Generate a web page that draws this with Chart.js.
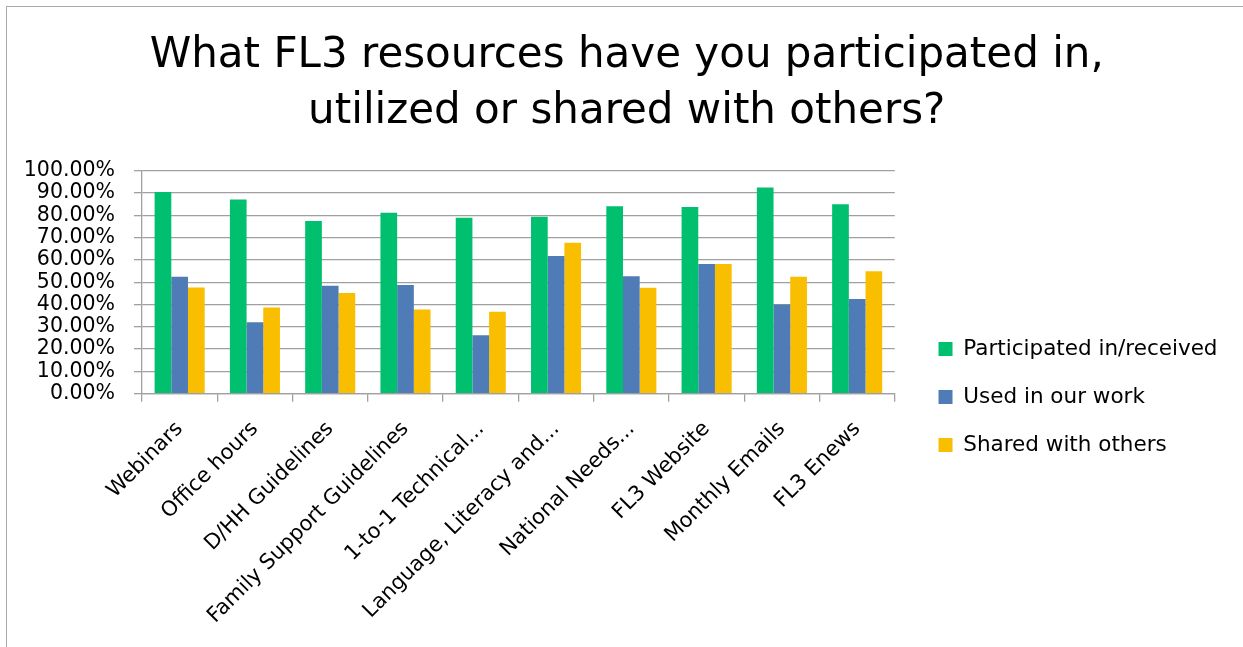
<!DOCTYPE html>
<html><head><meta charset="utf-8">
<script src="https://cdn.jsdelivr.net/npm/chart.js@4.4.0/dist/chart.umd.min.js"></script>
<style>
html,body{margin:0;padding:0;background:#fff;}
#wrap{position:relative;width:1243px;height:647px;overflow:hidden;}
#frame{position:absolute;left:6px;top:6px;width:1300px;height:700px;border-left:1px solid #a9a9a9;border-top:1px solid #a9a9a9;}
canvas{position:absolute;left:0;top:0;}
</style></head><body>
<div id="wrap"><div id="frame"></div><canvas id="c" width="1243" height="647"></canvas></div>
<script>
const titleLines = ['What FL3 resources have you participated in,', 'utilized or shared with others?'];
const categories = ['Webinars', 'Office hours', 'D/HH Guidelines', 'Family Support Guidelines', '1-to-1 Technical...', 'Language, Literacy and...', 'National Needs...', 'FL3 Website', 'Monthly Emails', 'FL3 Enews'];
const seriesNames = ['Participated in/received', 'Used in our work', 'Shared with others'];
const participated = [90.4, 87.1, 77.4, 81.1, 78.9, 79.3, 84.1, 83.7, 92.5, 85.0];
const usedInWork = [52.4, 32.0, 48.4, 48.7, 26.2, 61.7, 52.7, 58.1, 40.0, 42.5];
const sharedWithOthers = [47.6, 38.6, 45.1, 37.7, 36.7, 67.7, 47.5, 58.1, 52.4, 54.9];
const yTickLabels = ['0.00%', '10.00%', '20.00%', '30.00%', '40.00%', '50.00%', '60.00%', '70.00%', '80.00%', '90.00%', '100.00%'];
const FONT = 'DejaVu Sans';
const GRID = '#a0a0a0';

new Chart(document.getElementById('c'), {
  type: 'bar',
  data: {
    labels: categories,
    datasets: [
      { label: seriesNames[0], data: participated, backgroundColor: '#00bf6f' },
      { label: seriesNames[1], data: usedInWork, backgroundColor: '#4f7cb6' },
      { label: seriesNames[2], data: sharedWithOthers, backgroundColor: '#f9be00' }
    ]
  },
  options: {
    responsive: false,
    animation: false,
    devicePixelRatio: 1,
    layout: { padding: { left: 26, right: 15.5, top: 0, bottom: 0 } },
    datasets: { bar: { categoryPercentage: 0.665, barPercentage: 1 } },
    plugins: {
      title: {
        display: true, text: titleLines, color: '#000',
        font: { family: FONT, size: 42, weight: 'normal', lineHeight: 1.333 },
        padding: { top: 28, bottom: 30.7 }
      },
      legend: {
        position: 'right',
        maxWidth: 400,
        labels: { boxWidth: 14, boxHeight: 14, padding: 26.5, color: '#000', font: { family: FONT, size: 21.5 } },
        title: { display: true, text: ' ', font: { size: 1 }, padding: { top: 146, bottom: 0 } }
      },
      tooltip: { enabled: false }
    },
    scales: {
      x: {
        offset: true,
        grid: { display: true, drawOnChartArea: false, drawTicks: true, tickLength: 8, color: GRID, lineWidth: 1.3, offset: true },
        border: { display: true, color: GRID, width: 1.3 },
        ticks: { color: '#000', font: { family: FONT, size: 21 }, minRotation: 45, maxRotation: 45, autoSkip: false, padding: 15 },
        afterFit(s) { s.height = 253.3; }
      },
      y: {
        min: 0, max: 100,
        ticks: { stepSize: 10, autoSkip: false, color: '#000', font: { family: FONT, size: 20.5 }, padding: 19, callback: (v, i) => yTickLabels[i] },
        grid: { color: GRID, lineWidth: 1.3, tickLength: 8, drawTicks: true },
        border: { display: true, color: GRID, width: 1.3 },
        afterFit(s) { s.width = 116; }
      },
      gap: {
        type: 'linear', position: 'right', display: true,
        grid: { display: false }, ticks: { display: false }, border: { display: false },
        afterFit(s) { s.width = 17.2; }
      }
    }
  }
});
</script>
</body></html>
